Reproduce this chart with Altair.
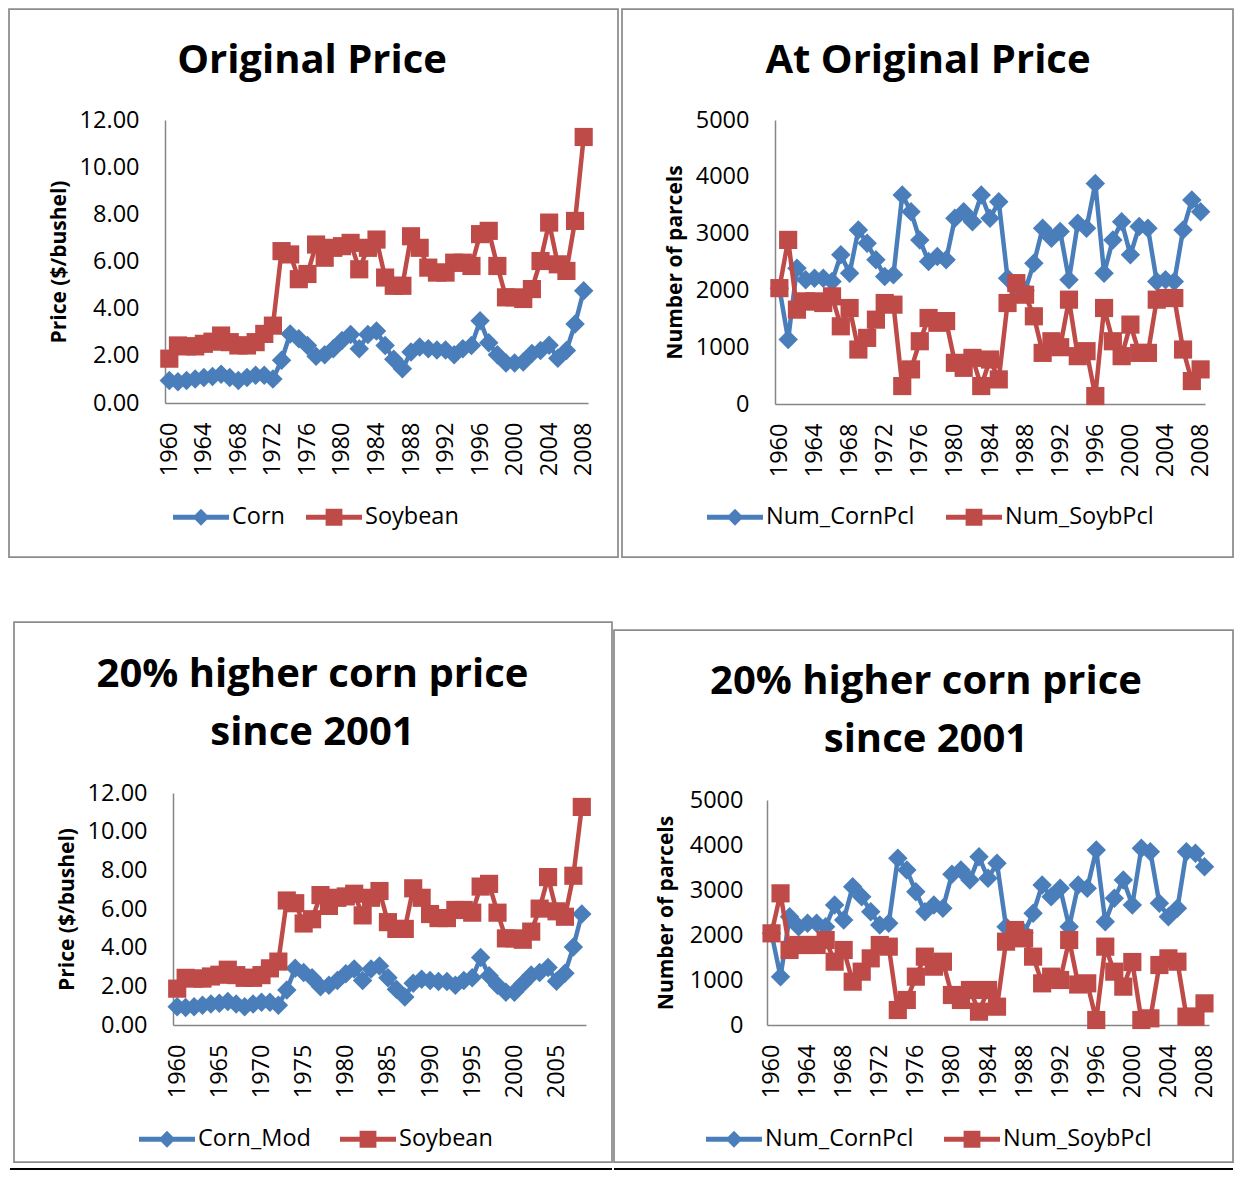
import altair as alt
import pandas as pd

years = list(range(1960, 2009))

corn = [0.95, 0.90, 0.95, 1.02, 1.08, 1.12, 1.22, 1.08, 0.95, 1.08, 1.18, 1.18, 1.02,
        1.81, 2.93, 2.72, 2.44, 1.98, 2.05, 2.30, 2.65, 2.90, 2.30, 2.90, 3.05, 2.44,
        1.85, 1.45, 2.16, 2.37, 2.30, 2.25, 2.25, 2.05, 2.30, 2.44, 3.49, 2.55, 2.05,
        1.70, 1.70, 1.74, 2.10, 2.23, 2.45, 1.90, 2.23, 3.35, 4.76]
soybean = [1.88, 2.44, 2.40, 2.40, 2.51, 2.60, 2.86, 2.58, 2.44, 2.44, 2.58, 2.93, 3.28,
           6.44, 6.30, 5.25, 5.47, 6.72, 6.16, 6.58, 6.65, 6.79, 5.67, 6.58, 6.93, 5.32,
           4.97, 4.97, 7.07, 6.58, 5.74, 5.53, 5.53, 5.95, 5.95, 5.81, 7.16, 7.30, 5.81,
           4.48, 4.48, 4.41, 4.83, 6.02, 7.65, 5.88, 5.60, 7.72, 11.28]
corn_mod = [0.95, 0.90, 0.95, 1.02, 1.08, 1.12, 1.22, 1.08, 0.95, 1.08, 1.18, 1.18, 1.02,
            1.81, 2.93, 2.72, 2.44, 1.98, 2.05, 2.30, 2.65, 2.90, 2.30, 2.90, 3.05, 2.44,
            1.85, 1.45, 2.16, 2.37, 2.30, 2.25, 2.25, 2.05, 2.30, 2.44, 3.49, 2.55, 2.05,
            1.70, 1.70, 2.15, 2.59, 2.72, 2.98, 2.26, 2.68, 4.04, 5.74]
corn_pcl_orig = [2040, 1135, 2392, 2187, 2216, 2216, 2158, 2626, 2304, 3064,
                 2830, 2538, 2246, 2275, 3679, 3386, 2889, 2509, 2597, 2538,
                 3269, 3386, 3210, 3679, 3269, 3561, 2216, 2050, 2000, 2480,
                 3094, 2918, 3035, 2187, 3181, 3094, 3883, 2304, 2889, 3210,
                 2626, 3123, 3094, 2158, 2187, 2158, 3064, 3591, 3386]
soyb_pcl_orig = [2040, 2889, 1661, 1807, 1807, 1778, 1895, 1368, 1690, 959,
                 1164, 1485, 1778, 1749, 316, 609, 1105, 1514, 1430, 1460,
                 725, 637, 812, 316, 783, 433, 1778, 2128, 1924, 1544,
                 900, 1105, 1000, 1837, 842, 930, 140, 1690, 1105, 842,
                 1398, 900, 900, 1837, 1866, 1866, 959, 404, 609]
corn_pcl_mod = [2037, 1074, 2407, 2185, 2259, 2259, 2185, 2667, 2333, 3074,
                2852, 2519, 2222, 2259, 3704, 3444, 2963, 2519, 2667, 2593,
                3348, 3444, 3222, 3741, 3259, 3593, 2185, 2050, 2050, 2481,
                3111, 2852, 3037, 2185, 3111, 3037, 3889, 2296, 2815, 3222,
                2667, 3926, 3852, 2704, 2407, 2593, 3852, 3815, 3519]
soyb_pcl_mod = [2037, 2926, 1667, 1778, 1778, 1778, 1889, 1407, 1667, 963,
                1185, 1481, 1778, 1741, 333, 556, 1074, 1519, 1296, 1407,
                667, 556, 778, 296, 778, 407, 1852, 2111, 1926, 1519,
                926, 1074, 1000, 1889, 900, 926, 111, 1741, 1185, 852,
                1400, 111, 148, 1333, 1481, 1407, 185, 185, 481]

ticks4 = [1960, 1964, 1968, 1972, 1976, 1980, 1984, 1988, 1992, 1996, 2000, 2004, 2008]
ticks5 = [1960, 1965, 1970, 1975, 1980, 1985, 1990, 1995, 2000, 2005]
price_ticks = [0, 2, 4, 6, 8, 10, 12]
parcel_ticks = [0, 1000, 2000, 3000, 4000, 5000]

BLUE = "#4A7EBB"
RED = "#BE4B48"
FONT = "Open Sans"
BORDER = "#8C8C8C"
TXT = 23.5

# legend symbols: a short thick line with the series marker in the middle
LEG_BAR = "M-1,-0.085H1V0.085H-1Z"
LEG_DIAMOND = LEG_BAR + " M0,-0.3L0.3,0L0,0.3L-0.3,0Z"
LEG_SQUARE = LEG_BAR + " M-0.3,-0.3H0.3V0.3H-0.3Z"

one = pd.DataFrame({"k": [0]})


def panel(names, v1, v2, ydom, yvals, yfmt, ytitle, xvals, w, h, xoff, rect, titles,
          leg_x, leg_y, col_pad, ylab_pad, ytitle_pad, extras):
    xenc = alt.X("year:Q",
                 scale=alt.Scale(domain=[1959.5, 2008.5], nice=False, zero=False,
                                 range=[xoff, xoff + w]),
                 axis=alt.Axis(values=xvals, format="d", labelAngle=-90, labelPadding=19,
                               title=None, labelFlush=False, labelOverlap=False))
    yenc = alt.Y("value:Q",
                 scale=alt.Scale(domain=ydom, nice=False, zero=True),
                 axis=alt.Axis(values=yvals, format=yfmt, title=ytitle, offset=-xoff,
                               labelPadding=ylab_pad, titlePadding=ytitle_pad,
                               labelFlush=False, labelOverlap=False))

    layers = [
        alt.Chart(one).mark_rect(fill="transparent", stroke=BORDER, strokeWidth=1.75).encode(
            x=alt.value(rect[0]), x2=alt.value(rect[1]),
            y=alt.value(rect[2]), y2=alt.value(rect[3]))
    ]
    for (txt, tx, ty, fs) in titles:
        layers.append(
            alt.Chart(one).mark_text(text=txt, font=FONT, fontSize=fs, fontWeight="bold",
                                     align="center", baseline="alphabetic", color="black")
            .encode(x=alt.value(tx), y=alt.value(ty)))

    for vals, col, shp, sz in [(v1, BLUE, "diamond", 380), (v2, RED, "square", 330)]:
        df = pd.DataFrame({"year": years, "value": vals})
        base = alt.Chart(df)
        layers.append(base.mark_line(strokeWidth=4.5, color=col).encode(x=xenc, y=yenc))
        layers.append(base.mark_point(filled=True, shape=shp, size=sz, opacity=1, color=col)
                      .encode(x=xenc, y=yenc))

    # legend-only layer (invisible marks, the legend is drawn from its scales)
    leg_df = pd.DataFrame({"series": names})
    leg = alt.Legend(orient="none", legendX=leg_x, legendY=leg_y, direction="horizontal",
                     columns=2, title=None, labelFont=FONT, labelFontSize=TXT,
                     labelColor="black", symbolSize=3136, labelOffset=3,
                     symbolOpacity=1, symbolStrokeWidth=0,
                     columnPadding=col_pad, padding=0)
    layers.append(
        alt.Chart(leg_df).mark_point(filled=True, opacity=0, size=100).encode(
            x=alt.value(xoff + w / 2), y=alt.value(h / 2),
            color=alt.Color("series:N", scale=alt.Scale(domain=names, range=[BLUE, RED]),
                            legend=leg),
            shape=alt.Shape("series:N",
                            scale=alt.Scale(domain=names, range=[LEG_DIAMOND, LEG_SQUARE]),
                            legend=leg)))

    for (col, sw, x1, x2, y1, y2) in extras:
        layers.append(alt.Chart(one).mark_rule(color=col, strokeWidth=sw).encode(
            x=alt.value(x1), x2=alt.value(x2), y=alt.value(y1), y2=alt.value(y2)))
    return alt.layer(*layers).properties(width=xoff + w, height=h)


p1 = panel(["Corn", "Soybean"], corn, soybean, [0, 12], price_ticks, ".2f",
           "Price ($/bushel)", ticks4, 423, 283, 0, (-156, 453, -111, 437),
           [("Original Price", 147, -47, 40)], 8, 369, 21, 26, 10, [])
p2 = panel(["Num_CornPcl", "Num_SoybPcl"], corn_pcl_orig, soyb_pcl_orig, [0, 5000],
           parcel_ticks, "d", "Number of parcels", ticks4, 430, 284, 0,
           (-153, 458, -111, 437), [("At Original Price", 153, -47, 40)],
           -68, 369, 31, 26, 10, [("white", 1, -161.5, -161.5, 0, 1)])
p3 = panel(["Corn_Mod", "Soybean"], corn_mod, soybean, [0, 12], price_ticks, ".2f",
           "Price ($/bushel)", ticks5, 413, 232, 8, (-151, 447, -171, 369),
           [("20% higher corn price", 147.5, -106, 40), ("since 2001", 147.5, -48, 40)],
           -26, 318, 29, 26, 10, [("black", 2, -155, 447, 376, 376)])
p4 = panel(["Num_CornPcl", "Num_SoybPcl"], corn_pcl_mod, soyb_pcl_mod, [0, 5000],
           parcel_ticks, "d", "Number of parcels", ticks4, 442, 225, 0,
           (-153, 466, -170, 362),
           [("20% higher corn price", 159, -106, 40), ("since 2001", 159, -48, 40)],
           -61, 311, 30, 24, 13,
           [("black", 2, -153, 466, 369, 369), ("white", 1, 0, 1, -178.5, -178.5)])

chart = (
    alt.concat(p1, p2, p3, p4, columns=2, align="none", bounds="full",
               spacing={"row": 63, "column": -6})
    .resolve_scale(color="independent", shape="independent")
    .properties(padding=0)
    .configure_view(strokeWidth=0)
    .configure_axis(domainColor="#868686", domainWidth=1.5, ticks=False, tickSize=0,
                    grid=False, labelFont=FONT, labelFontSize=TXT, labelColor="black",
                    titleFont=FONT, titleFontSize=21, titleFontWeight="bold",
                    titleColor="black")
)

chart.save("out.html", embed_options={"renderer": "svg", "actions": False})
